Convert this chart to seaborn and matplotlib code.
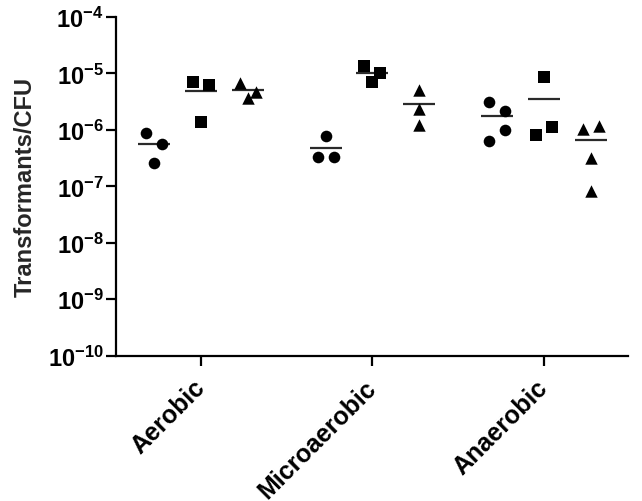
import numpy as np
import pandas as pd
import matplotlib
matplotlib.use('Agg')
import matplotlib.pyplot as plt
from matplotlib.ticker import FixedLocator, NullLocator
from matplotlib.transforms import ScaledTranslation
import seaborn as sns

# values (transformants per CFU)
conditions = ['Aerobic', 'Microaerobic', 'Anaerobic']
circle_vals = [[8.7e-7, 5.7e-7, 2.6e-7],
               [7.9e-7, 3.35e-7, 3.35e-7],
               [3.16e-6, 2.16e-6, 9.8e-7, 6.3e-7]]
square_vals = [[6.97e-6, 6.32e-6, 1.40e-6],
               [1.34e-5, 1.01e-5, 7.15e-6],
               [8.55e-6, 8.1e-7, 1.14e-6]]
triangle_vals = [[6.7e-6, 4.75e-6, 3.72e-6],
                 [5.15e-6, 2.34e-6, 1.22e-6],
                 [1.04e-6, 1.19e-6, 3.14e-7, 8.4e-8]]
y_exponents = [-10, -9, -8, -7, -6, -5, -4]
y_ticklabels = [r'$10^{%d}$' % e for e in y_exponents]

# side-by-side nudges for points that would overlap (in half marker widths)
circle_nudge = [[-1, 1, 0], [0, -1, 1], [-1, 1, 1, -1]]
square_nudge = [[-1, 1, 0], [-1, 1, 0], [0, -1, 1]]
triangle_nudge = [[-1, 1, 0], [0, 0, 0], [-1, 1, 0, 0]]

series = [('o', 70, -0.27, circle_vals, circle_nudge),
          ('s', 70, 0.0, square_vals, square_nudge),
          ('^', 80, 0.275, triangle_vals, triangle_nudge)]
nudge_step = 0.047
mean_half = 0.093

sns.set_theme(style='ticks')
plt.rcParams['font.family'] = ['Liberation Sans', 'DejaVu Sans']
plt.rcParams['font.weight'] = 'bold'
plt.rcParams['mathtext.fontset'] = 'custom'
plt.rcParams['mathtext.rm'] = 'Liberation Sans:bold'
plt.rcParams['mathtext.it'] = 'Liberation Sans:bold:italic'
plt.rcParams['mathtext.bf'] = 'Liberation Sans:bold'

fig = plt.figure(figsize=(6.42, 5.02), dpi=100)
ax = fig.add_axes([0.1807, 0.2894, 0.798, 0.6747])

for marker, size, offset, vals, nudges in series:
    rows = []
    for i, (v, n) in enumerate(zip(vals, nudges)):
        for val, k in zip(v, n):
            rows.append({'x': i + offset + k * nudge_step, 'value': val})
    df = pd.DataFrame(rows)
    sns.scatterplot(data=df, x='x', y='value', marker=marker, s=size,
                    color='black', linewidth=0, legend=False, ax=ax,
                    zorder=3)
    for i, v in enumerate(vals):
        xc = i + offset
        ax.hlines(np.mean(v), xc - mean_half, xc + mean_half,
                  color='#2a2a2a', lw=1.6, zorder=2)

ax.set_yscale('log')
ax.set_ylim(1e-10, 1e-4)
ax.set_xlim(-0.494, 2.494)
ax.yaxis.set_major_locator(FixedLocator([10.0 ** e for e in y_exponents]))
ax.yaxis.set_minor_locator(NullLocator())
ax.set_yticklabels(y_ticklabels, fontsize=17)
ax.set_xticks(range(len(conditions)))
ax.set_xticklabels(conditions, rotation=45, ha='right',
                   rotation_mode='anchor', fontsize=18, fontweight='bold')

ax.set_xlabel('')
ax.set_ylabel('Transformants/CFU', fontsize=17, fontweight='bold')
ax.yaxis.set_label_coords(-0.154, 0.5)

sns.despine(ax=ax)
for side in ['left', 'bottom']:
    ax.spines[side].set_linewidth(1.6)
    ax.spines[side].set_color('black')
ax.tick_params(axis='both', width=1.6, length=7, color='black',
               labelcolor='black', pad=2)
ax.tick_params(axis='x', pad=7)

# pull the slanted labels left so they end under the tick
# (done after tick_params, which resets the label transforms)
shift = ScaledTranslation(-6 / 72, 0, fig.dpi_scale_trans)
for lab in ax.get_xticklabels():
    lab.set_transform(lab.get_transform() + shift)

fig.savefig('out.png', dpi=100)
